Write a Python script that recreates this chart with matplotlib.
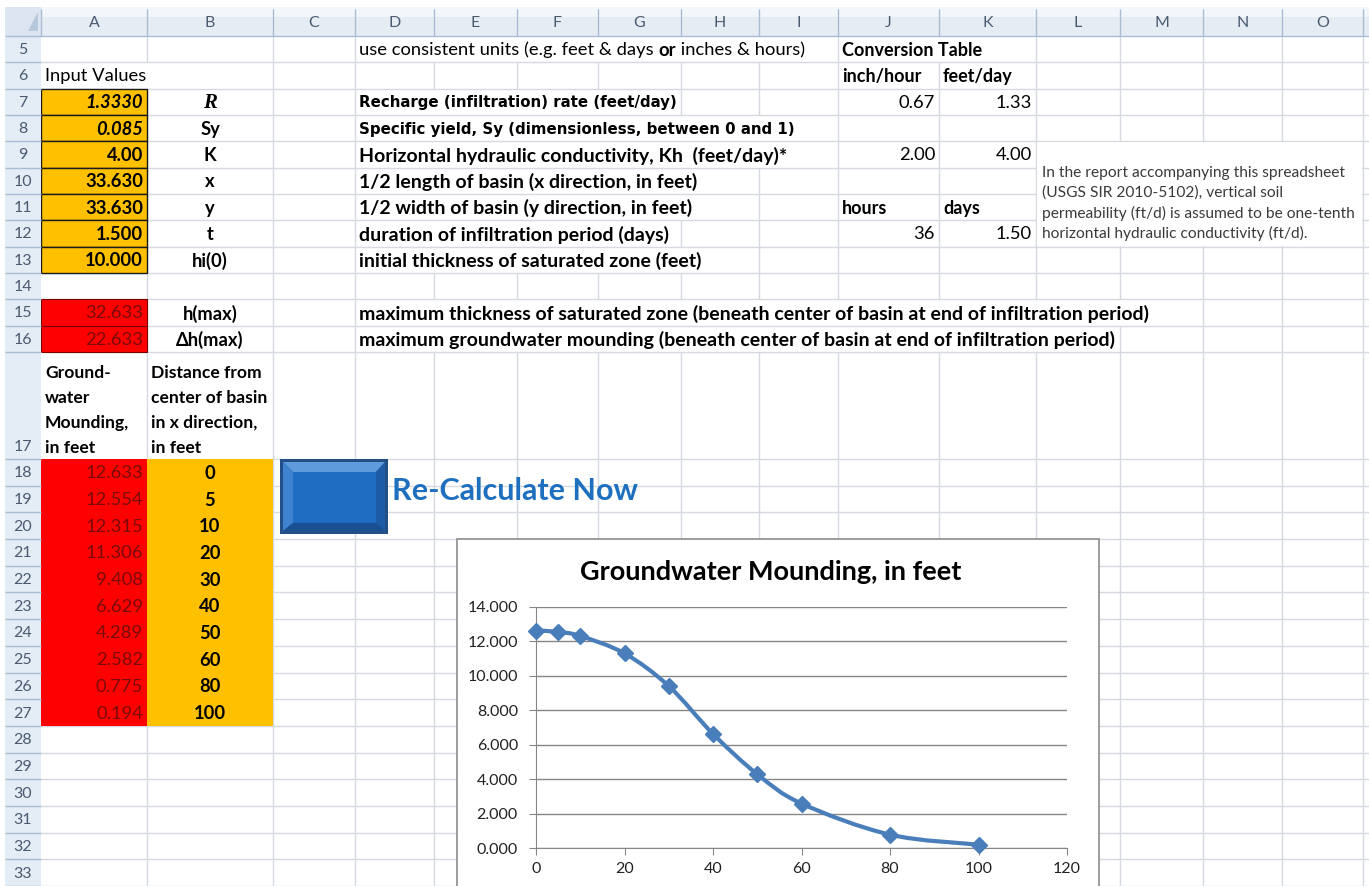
import numpy as np
import matplotlib
matplotlib.use('Agg')
import matplotlib.pyplot as plt
from matplotlib.patches import Rectangle, Polygon, PathPatch
from matplotlib.path import Path
from matplotlib.collections import LineCollection

plt.rcParams['font.family'] = ['Lato', 'DejaVu Sans']

# ---- sheet data ----
distance = [0, 5, 10, 20, 30, 40, 50, 60, 80, 100]
mounding = [12.633, 12.554, 12.315, 11.306, 9.408, 6.629, 4.289, 2.582, 0.775, 0.194]

input_values = ['1.3330', '0.085', '4.00', '33.630', '33.630', '1.500', '10.000']
input_symbols = ['R', 'Sy', 'K', 'x', 'y', 't', 'hi(0)']
input_desc = ['Recharge (infiltration) rate (feet/day)',
              'Specific yield, Sy (dimensionless, between 0 and 1)',
              'Horizontal hydraulic conductivity, Kh  (feet/day)*',
              '1/2 length of basin (x direction, in feet)',
              '1/2 width of basin (y direction, in feet)',
              'duration of infiltration period (days)',
              'initial thickness of saturated zone (feet)']

result_values = ['32.633', '22.633']
result_symbols = ['h(max)', 'Δh(max)']
result_desc = ['maximum thickness of saturated zone (beneath center of basin at end of infiltration period)',
               'maximum groundwater mounding (beneath center of basin at end of infiltration period)']

# conversion table: (row, J, K)
conv_rows = [(7, '0.67', '1.33'), (9, '2.00', '4.00'), (12, '36', '1.50')]

note_lines = ['In the report accompanying this spreadsheet',
              '(USGS SIR 2010-5102), vertical soil',
              'permeability (ft/d) is assumed to be one-tenth',
              'horizontal hydraulic conductivity (ft/d).']

col_names = list('ABCDEFGHIJKLMNO')
row_numbers = list(range(5, 34))

# ---- layout (pixels) ----
W, H = 1369, 886
col_edges = [41, 147, 273, 355, 434, 517, 598, 681, 759, 838, 939, 1036, 1120, 1203, 1282, 1363, 1369]
HEAD_TOP, HEAD_BOT = 7, 36


def row_span(r):
    if r <= 16:
        top = 36 + (r - 5) * 26.33
        return top, top + 26.33
    if r == 17:
        return 352, 459
    top = 459 + (r - 18) * 26.69
    return top, top + 26.69


def col_span(c):
    i = col_names.index(c)
    return col_edges[i], col_edges[i + 1]


fig = plt.figure(figsize=(W / 100, H / 100), dpi=100)
ax = fig.add_axes([0, 0, 1, 1])
ax.set_xlim(0, W)
ax.set_ylim(H, 0)
ax.axis('off')

CELL = 13.2
DESC = 14
overflow = []  # (row, left edge, text artist)


def put(col, row, s, ha='left', bold=False, italic=False, color='black', size=CELL, family=None, dy=1):
    x0, x1 = col_span(col)
    t0, t1 = row_span(row)
    x = {'left': x0 + 4, 'right': x1 - 4, 'center': (x0 + x1) / 2}[ha]
    kw = {}
    if family:
        kw['family'] = family
    t = ax.text(x, (t0 + t1) / 2 + dy, s, ha=ha, va='center', fontsize=size,
                fontweight='bold' if bold else 'normal',
                fontstyle='italic' if italic else 'normal', color=color, zorder=6, **kw)
    if ha == 'left':
        overflow.append((row, x0, t))
    return t


renderer = fig.canvas.get_renderer()
inv = ax.transData.inverted()


def right_end(t):
    bb = t.get_window_extent(renderer)
    return inv.transform((bb.x1, bb.y0))[0]


# row 5, mixed bold run
t = put('D', 5, 'use consistent units (e.g. feet & days ')
t = ax.text(right_end(t), t.get_position()[1], 'or', ha='left', va='center', fontsize=CELL,
            fontweight='bold', zorder=6)
t = ax.text(right_end(t), t.get_position()[1], ' inches & hours)', ha='left', va='center',
            fontsize=CELL, zorder=6)
overflow.append((5, col_span('D')[0], t))

put('J', 5, 'Conversion Table', bold=True, size=13)
put('A', 6, 'Input Values')
put('J', 6, 'inch/hour', bold=True, size=13)
put('K', 6, 'feet/day', bold=True, size=13)
put('J', 11, 'hours', bold=True, size=13)
put('K', 11, 'days', bold=True, size=13)
for r, jv, kv in conv_rows:
    put('J', r, jv, ha='right')
    put('K', r, kv, ha='right')

# input block
for i, (v, s, d) in enumerate(zip(input_values, input_symbols, input_desc)):
    r = 7 + i
    x0, x1 = col_span('A')
    t0, t1 = row_span(r)
    ax.add_patch(Rectangle((x0, t0), x1 - x0, t1 - t0, facecolor='#FFC000',
                           edgecolor='#1A1A1A', lw=1.0, zorder=3))
    put('A', r, v, ha='right', bold=True, italic=(i < 2))
    if s == 'R':
        put('B', r, s, ha='center', bold=True, italic=True, family='Liberation Serif', size=15)
    else:
        put('B', r, s, ha='center', bold=True)
    if i < 2:
        # these two descriptions use a wider face in the sheet
        put('D', r, d, bold=True, family='DejaVu Sans', size=10.8)
    else:
        put('D', r, d, bold=True, size=DESC)

# results
for i, (v, s, d) in enumerate(zip(result_values, result_symbols, result_desc)):
    r = 15 + i
    x0, x1 = col_span('A')
    t0, t1 = row_span(r)
    ax.add_patch(Rectangle((x0, t0), x1 - x0, t1 - t0, facecolor='#FF0000',
                           edgecolor='#7A0000', lw=0.8, zorder=3))
    put('A', r, v, ha='right', color='#7A0A0A')
    put('B', r, s, ha='center', bold=True)
    put('D', r, d, bold=True, size=DESC)

# table header row 17 (wrapped)
head_a = ['Ground-', 'water', 'Mounding,', 'in feet']
head_b = ['Distance from', 'center of basin', 'in x direction,', 'in feet']
for k, (la, lb) in enumerate(zip(head_a, head_b)):
    y = 373 + 25 * k
    ax.text(col_span('A')[0] + 4, y, la, ha='left', va='center', fontsize=12.6, fontweight='bold', zorder=6)
    ax.text(col_span('B')[0] + 4, y, lb, ha='left', va='center', fontsize=12.6, fontweight='bold', zorder=6)

# table values
for i, (d, m) in enumerate(zip(distance, mounding)):
    r = 18 + i
    t0, t1 = row_span(r)
    a0, a1 = col_span('A')
    b0, b1 = col_span('B')
    ax.add_patch(Rectangle((a0, t0), a1 - a0, t1 - t0 + 0.5, facecolor='#FF0000', lw=0, zorder=3))
    ax.add_patch(Rectangle((b0, t0), b1 - b0, t1 - t0 + 0.5, facecolor='#FFC000', lw=0, zorder=3))
    put('A', r, f'{m:.3f}', ha='right', color='#7A0A0A')
    put('B', r, f'{d:g}', ha='center', bold=True)

# note box L9:O12
nx0, ny0 = col_span('L')[0], row_span(9)[0]
nx1, ny1 = col_span('O')[1], row_span(12)[1]
ax.add_patch(Rectangle((nx0 + 1, ny0 + 1), nx1 - nx0 - 2, ny1 - ny0 - 2, facecolor='white', lw=0, zorder=2))
for k, line in enumerate(note_lines):
    ax.text(nx0 + 6, 173 + 20 * k, line, ha='left', va='center', fontsize=11.2, color='#3A3A3A', zorder=6)

# ---- grid ----
hidden = {}
for r, left, t in overflow:
    xe = right_end(t)
    hidden.setdefault(r, set())
    for x in col_edges:
        if left + 1 < x < xe + 2:
            hidden[r].add(x)

segs = []
for r in row_numbers:
    t0, t1 = row_span(r)
    for x in col_edges[1:-1]:
        if x in hidden.get(r, set()):
            continue
        segs.append([(x, t0), (x, t1)])
for r in row_numbers:
    t0, t1 = row_span(r)
    segs.append([(col_edges[0], t1), (W, t1)])
ax.add_collection(LineCollection(segs, colors='#D6D9DF', linewidths=1.0, zorder=1))

# column header band
ax.add_patch(Rectangle((5, HEAD_TOP), W - 5, HEAD_BOT - HEAD_TOP, facecolor='#E6ECF4', lw=0, zorder=4))
ax.add_patch(Rectangle((5, HEAD_TOP), W - 5, 10, facecolor='#F3F6FA', lw=0, zorder=4))
hseg = [[(x, HEAD_TOP + 2), (x, HEAD_BOT)] for x in col_edges[:-1]]
hseg.append([(5, HEAD_BOT), (W, HEAD_BOT)])
for c in col_names:
    x0, x1 = col_span(c)
    ax.text((x0 + x1) / 2, (HEAD_TOP + HEAD_BOT) / 2 + 1, c, ha='center', va='center',
            fontsize=11.5, color='#4A5A70', zorder=6)
# row header band
ax.add_patch(Rectangle((5, HEAD_BOT), col_edges[0] - 5, H - HEAD_BOT, facecolor='#E4ECF6', lw=0, zorder=4))
ax.add_patch(Rectangle((5, HEAD_TOP), col_edges[0] - 5, HEAD_BOT - HEAD_TOP, facecolor='#DDE5F0', lw=0, zorder=4))
ax.add_patch(Polygon([(28, 31), (38, 31), (38, 12)], closed=True, facecolor='#B8C8DC', lw=0, zorder=5))
for r in row_numbers:
    t0, t1 = row_span(r)
    hseg.append([(5, t1), (col_edges[0], t1)])
    ty = (t0 + t1) / 2 + 1 if r != 17 else t1 - 12
    ax.text(23, ty, str(r), ha='center', va='center', fontsize=11.5, color='#4A5A70', zorder=6)
ax.add_collection(LineCollection(hseg, colors='#A9BCD3', linewidths=1.0, zorder=5))

# ---- button ----
bx0, by0, bx1, by1 = 280, 459, 388, 534
ix0, iy0, ix1, iy1 = 293, 472, 376, 523
ax.add_patch(Rectangle((bx0, by0), bx1 - bx0, by1 - by0, facecolor='#244E86', lw=0, zorder=5))
ox0, oy0, ox1, oy1 = bx0 + 3, by0 + 3, bx1 - 3, by1 - 3
ax.add_patch(Polygon([(ox0, oy0), (ox1, oy0), (ix1, iy0), (ix0, iy0)], facecolor='#5D9BDB', lw=0, zorder=6))
ax.add_patch(Polygon([(ox0, oy0), (ix0, iy0), (ix0, iy1), (ox0, oy1)], facecolor='#3F82CF', lw=0, zorder=6))
ax.add_patch(Polygon([(ox0, oy1), (ix0, iy1), (ix1, iy1), (ox1, oy1)], facecolor='#1A4F92', lw=0, zorder=6))
ax.add_patch(Polygon([(ox1, oy0), (ox1, oy1), (ix1, iy1), (ix1, iy0)], facecolor='#1D5BA6', lw=0, zorder=6))
ax.add_patch(Rectangle((ix0, iy0), ix1 - ix0, iy1 - iy0, facecolor='#1F6DC3', lw=0, zorder=7))
ax.text(392, 491, 'Re-Calculate Now', ha='left', va='center', fontsize=22,
        fontweight='bold', color='#1F6FBF', zorder=7)

# ---- chart ----
ax.add_patch(Rectangle((457, 539), 1099 - 457, 400, facecolor='white', edgecolor='#8C8C8C', lw=1.2, zorder=8))
ax.text(771, 572, 'Groundwater Mounding, in feet', ha='center', va='center', fontsize=19.5,
        fontweight='bold', color='black', zorder=9)


def fig_rect(x0, y0, x1, y1):
    return [x0 / W, 1 - y1 / H, (x1 - x0) / W, (y1 - y0) / H]


cax = fig.add_axes(fig_rect(536, 607, 1067, 848))
cax.set_facecolor('none')
cax.set_zorder(10)
cax.set_xlim(0, 120)
cax.set_ylim(0, 14)
cax.set_xticks(range(0, 121, 20))
cax.set_yticks(range(0, 15, 2))
cax.yaxis.set_major_formatter(lambda v, p: f'{v:.3f}')
cax.grid(axis='y', color='#868686', lw=1.0)
cax.set_axisbelow(True)
for s in ['top', 'right']:
    cax.spines[s].set_visible(False)
for s in ['left', 'bottom']:
    cax.spines[s].set_color('#868686')
cax.tick_params(direction='out', length=5, color='#868686', labelsize=11.5, labelcolor='#222222')
cax.tick_params(axis='y', pad=8)
cax.tick_params(axis='x', pad=5)

# Excel-style smoothed line through the points (Catmull-Rom bezier)
pts = np.column_stack([distance, mounding]).astype(float)
ext = np.vstack([pts[0], pts, pts[-1]])
verts = [pts[0]]
codes = [Path.MOVETO]
for i in range(len(pts) - 1):
    p0, p1, p2, p3 = ext[i], ext[i + 1], ext[i + 2], ext[i + 3]
    verts += [p1 + (p2 - p0) / 6, p2 - (p3 - p1) / 6, p2]
    codes += [Path.CURVE4] * 3
cax.add_patch(PathPatch(Path(verts, codes), facecolor='none', edgecolor='#4A7EBB', lw=3.0,
                        capstyle='round', joinstyle='round', zorder=3))
cax.plot(distance, mounding, linestyle='none', marker='D', markersize=8,
         color='#4A7EBB', zorder=4, clip_on=False)

fig.savefig('out.png', dpi=100)
